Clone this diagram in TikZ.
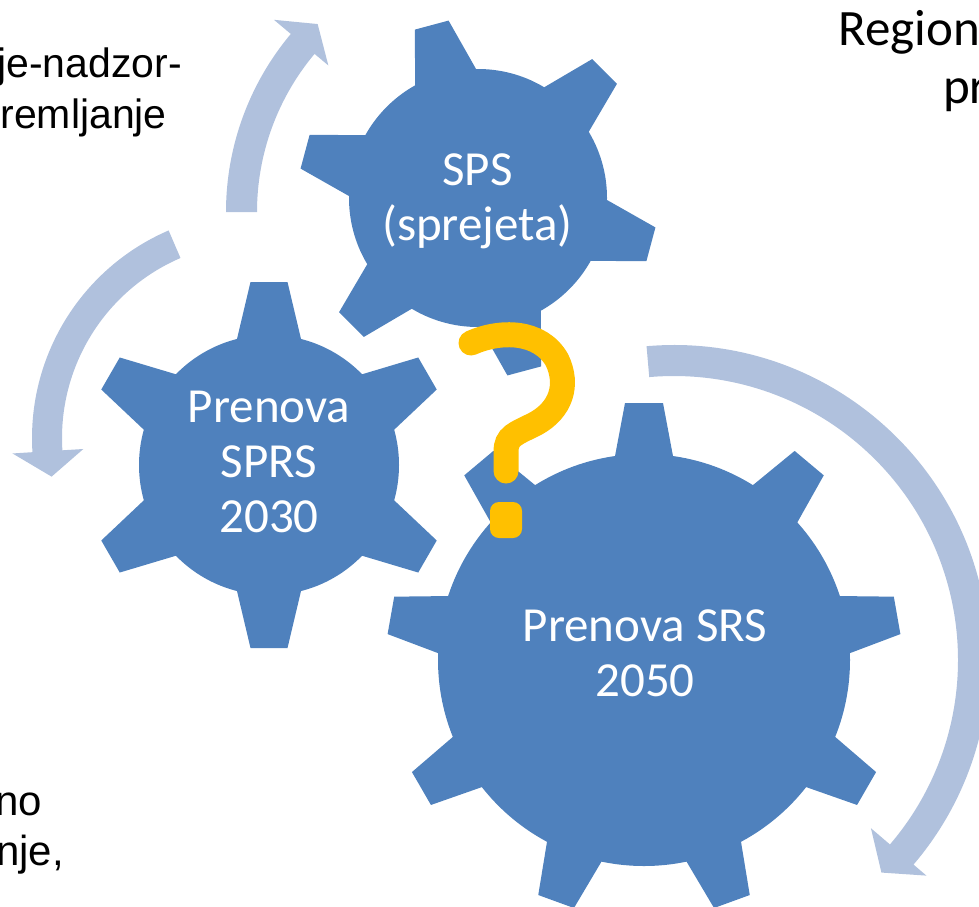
\documentclass[tikz,border=0pt]{standalone}
\usepackage{fontspec}
\setmainfont{Carlito}
\newfontfamily\arialfont{Liberation Sans}
\definecolor{gearblue}{HTML}{4F81BD}
\definecolor{arrowblue}{HTML}{B0C1DD}
\definecolor{askyellow}{HTML}{FFC000}

\begin{document}
\begin{tikzpicture}[x=1pt,y=-1pt]
                \tikzstyle{gear}=[fill=gearblue]
                \tikzstyle{cyclearrow}=[fill=arrowblue]
                \tikzstyle{geartext}=[white,align=center,inner sep=0pt,font=\fontsize{49}{55}\selectfont]
                \tikzstyle{sidetext}=[black,inner sep=0pt,font=\fontsize{51}{58}\selectfont]
                \tikzstyle{armtext}=[black,inner sep=0pt,font=\arialfont\fontsize{41}{50}\selectfont]
                \tikzstyle{lowtext}=[black,inner sep=0pt,font=\arialfont\fontsize{42}{50}\selectfont]
                \tikzstyle{askmark}=[askyellow,line width=25pt,line cap=round]
                \useasboundingbox (0,0) rectangle (979,906);
                \clip (0,0) rectangle (979,906);
                \coordinate (spsC) at (478,198);
                \coordinate (sprsC) at (269,465);
                \coordinate (srsC) at (644,660);
                % arrows
                \begin{scope}[shift={(503,212)}]
                    \fill[cyclearrow] (180:277) arc[start angle=180,end angle=220,radius=277]
                        -- (220:299) -- (225.4:264) -- (220:228) -- (220:246)
                        arc[start angle=220,end angle=180,radius=246] -- cycle;
                \end{scope}
                \begin{scope}[shift={(258,438)}]
                    \fill[cyclearrow] (246.7:226) arc[start angle=246.7,end angle=176.4,radius=226]
                        -- (176.4:246) -- (169.4:210) -- (176.4:175) -- (176.4:196)
                        arc[start angle=176.4,end angle=246.7,radius=196] -- cycle;
                \end{scope}
                \begin{scope}[shift={(674,660)}]
                    \fill[cyclearrow] (265:315) arc[start angle=265,end angle=400.5,radius=315]
                        -- (400.5:332) -- (405.7:297) -- (400.5:259) -- (400.5:284)
                        arc[start angle=400.5,end angle=265,radius=284] -- cycle;
                \end{scope}
                % gears
                \begin{scope}[shift={(spsC)}]
                    \fill[gear] (0,0) circle[radius=129];
                    \foreach \a in {15,75,...,315}
                        \fill[gear,rotate=-\a] (105,-36.7) -- (179,-17.5) -- (179,17.5) -- (105,36.7) -- cycle;
                \end{scope}
                \begin{scope}[shift={(sprsC)}]
                    \fill[gear] (0,0) circle[radius=130];
                    \foreach \a in {30,90,...,330}
                        \fill[gear,rotate=-\a] (105,-37) -- (183,-18.5) -- (183,18.5) -- (105,37) -- cycle;
                \end{scope}
                \begin{scope}[shift={(srsC)}]
                    \fill[gear] (0,0) circle[radius=206];
                    \foreach \a in {30,70,...,350}
                        \fill[gear,rotate=-\a] (180,-33.5) -- (257,-19) -- (257,19) -- (180,33.5) -- cycle;
                \end{scope}
                \node[geartext] (spsText) at (477.5,201.5) {SPS\\(sprejeta)};
                \node[geartext] (sprsText) at (269,462) {Prenova\\SPRS\\2030};
                \node[geartext] (srsText) at (645,653.5) {Prenova SRS\\2050};
                % question mark
                \draw[askmark] (471,343) .. controls (500,330) and (540,330) .. (557,360)
                    .. controls (569,385) and (561,410) .. (535,424)
                    .. controls (515,434) and (506,436) .. (506,452) -- (506,471);
                \fill[askyellow,rounded corners=9pt] (490,502) rectangle (522,538);
                % side texts
                \node[armtext,anchor=base east] (leftA) at (182,77) {je-nadzor-};
                \node[armtext,anchor=base east] (leftB) at (167,128) {remljanje};
                \node[lowtext,anchor=base east] (bottomA) at (42,815) {no};
                \node[lowtext,anchor=base east] (bottomB) at (64,865) {nje,};
                \node[sidetext,anchor=base west] (regionA) at (838,45) {Region};
                \node[sidetext,anchor=base west] (regionB) at (943,103) {pr};
\end{tikzpicture}
\end{document}
